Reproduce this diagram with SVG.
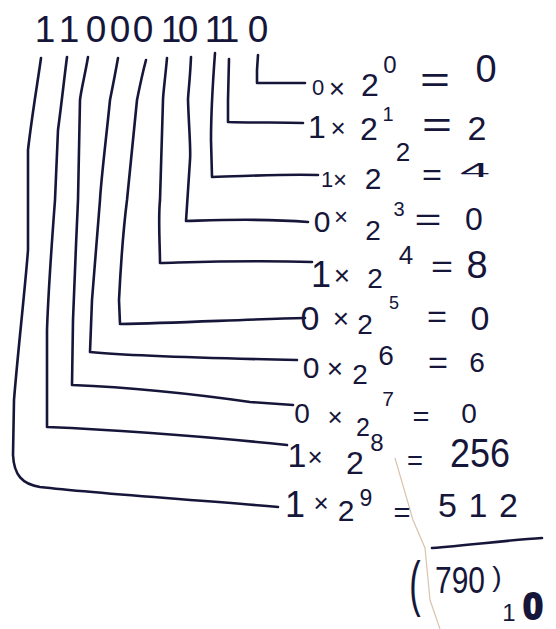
<svg xmlns="http://www.w3.org/2000/svg" width="556" height="629" viewBox="0 0 556 629">
<style>
text{font-family:"Liberation Sans","DejaVu Sans",sans-serif;fill:#16163a;text-anchor:middle}
.ln{fill:none;stroke:#16163a;stroke-width:2.6;stroke-linecap:round;stroke-linejoin:round}
.crease{fill:none;stroke:#c9a98a;stroke-width:1.2;opacity:0.7}
</style>
<rect width="556" height="629" fill="#ffffff"/>
<path class="crease" d="M395,458 L413,520 L425,548 L430,600 L440,629"/>

<g id="binary">
<text font-size="37" x="45 69 96 120 143 171 188 215 229 258" y="42">1100010110</text>
</g>

<g id="connectors">
<path class="ln" d="M41,58 C38,80 32,115 28,150 L28,250 C25,290 18,350 14,400 L13,455 C14,475 22,484 40,487 C100,494 200,500 278,507"/>
<path class="ln" d="M67,57 C64,80 62,100 58,130 L55,200 C52,240 48,300 47,330 L47,427 C120,430 200,436 287,445"/>
<path class="ln" d="M88,57 C85,75 81,90 80,100 L78,200 C76,240 74,300 73,320 L72,385 C120,387 180,392 250,402 L293,405"/>
<path class="ln" d="M118,58 C115,75 112,90 110,100 C106,140 101,180 100,200 L92,300 L90,352 C120,355 200,358 297,360"/>
<path class="ln" d="M146,60 C142,75 139,90 137,100 L127,200 C122,240 120,280 119,300 L120,324 C180,323 250,319 305,318"/>
<path class="ln" d="M167,58 C165,80 163,95 163,100 L160,200 C158,220 160,245 160,263 C200,262 250,260 312,262"/>
<path class="ln" d="M191,57 C190,80 188,95 188,100 C189,130 191,150 190,160 L186,221 C220,220 260,218 308,222"/>
<path class="ln" d="M215,53 C213,80 211,110 211,140 L212,177 C250,176 280,174 318,175"/>
<path class="ln" d="M229,59 L228,100 L228,122 C260,123 280,122 303,123"/>
<path class="ln" d="M258,55 L257,70 L257,83 L305,83"/>
</g>

<g id="term0">
<text font-size="22" x="318" y="95">0</text>
<text font-size="28" x="337" y="98">×</text>
<text font-size="32" x="370" y="96">2</text>
<text font-size="24" x="390" y="73">0</text>
<text font-size="36" x="435" y="92" textLength="30" lengthAdjust="spacingAndGlyphs">=</text>
<text font-size="38" x="486" y="82">0</text>
</g>

<g id="term1">
<text font-size="32" x="317" y="138">1</text>
<text font-size="26" x="338" y="137">×</text>
<text font-size="32" x="369" y="140">2</text>
<text font-size="20" x="388" y="121">1</text>
<text font-size="36" x="437" y="137" textLength="30" lengthAdjust="spacingAndGlyphs">=</text>
<text font-size="34" x="477" y="140">2</text>
</g>

<g id="term2">
<text font-size="22" x="327" y="187">1</text>
<text font-size="24" x="340" y="188">×</text>
<text font-size="30" x="373" y="189">2</text>
<text font-size="26" x="403" y="161">2</text>
<text font-size="30" x="432" y="185" textLength="20" lengthAdjust="spacingAndGlyphs">=</text>
<text font-size="20" x="475" y="177" textLength="30" lengthAdjust="spacingAndGlyphs">4</text>
</g>

<g id="term3">
<text font-size="30" x="322" y="232">0</text>
<text font-size="24" x="341" y="225">×</text>
<text font-size="28" x="373" y="240">2</text>
<text font-size="20" x="399" y="216">3</text>
<text font-size="32" x="428" y="230" textLength="27" lengthAdjust="spacingAndGlyphs">=</text>
<text font-size="32" x="474" y="230">0</text>
</g>

<g id="term4">
<text font-size="36" x="321" y="287">1</text>
<text font-size="28" x="342" y="285">×</text>
<text font-size="28" x="375" y="288">2</text>
<text font-size="26" x="406" y="264">4</text>
<text font-size="32" x="442" y="277" textLength="22" lengthAdjust="spacingAndGlyphs">=</text>
<text font-size="38" x="477" y="278">8</text>
</g>

<g id="term5">
<text font-size="34" x="310" y="330">0</text>
<text font-size="28" x="341" y="328">×</text>
<text font-size="28" x="365" y="334">2</text>
<text font-size="18" x="394" y="309">5</text>
<text font-size="32" x="437" y="327" textLength="20" lengthAdjust="spacingAndGlyphs">=</text>
<text font-size="34" x="480" y="330">0</text>
</g>

<g id="term6">
<text font-size="30" x="311" y="378">0</text>
<text font-size="28" x="335" y="378">×</text>
<text font-size="28" x="360" y="384">2</text>
<text font-size="28" x="386" y="365">6</text>
<text font-size="32" x="438" y="373" textLength="20" lengthAdjust="spacingAndGlyphs">=</text>
<text font-size="28" x="477" y="372">6</text>
</g>

<g id="term7">
<text font-size="28" x="302" y="423">0</text>
<text font-size="26" x="335" y="426">×</text>
<text font-size="25" x="363" y="436">2</text>
<text font-size="21" x="388" y="406">7</text>
<text font-size="28" x="421" y="426" textLength="17" lengthAdjust="spacingAndGlyphs">=</text>
<text font-size="28" x="469" y="423">0</text>
</g>

<g id="term8">
<text font-size="34" x="297" y="467">1</text>
<text font-size="26" x="315" y="466">×</text>
<text font-size="32" x="355" y="474">2</text>
<text font-size="24" x="377" y="451">8</text>
<text font-size="28" x="415" y="470" textLength="16" lengthAdjust="spacingAndGlyphs">=</text>
<text font-size="40" x="480" y="467" textLength="60" lengthAdjust="spacingAndGlyphs">256</text>
</g>

<g id="term9">
<text font-size="36" x="295" y="517">1</text>
<text font-size="26" x="321" y="512">×</text>
<text font-size="30" x="346" y="521">2</text>
<text font-size="23" x="366" y="506">9</text>
<text font-size="28" x="402" y="522" textLength="17" lengthAdjust="spacingAndGlyphs">=</text>
<text font-size="34" x="478" y="517" textLength="80" lengthAdjust="spacing">512</text>
</g>

<g id="result">
<path class="ln" d="M432,548 C470,545 510,540 542,538"/>
<text font-size="62" transform="translate(415,604) scale(0.55,1)" x="0" y="0">(</text>
<text font-size="36" x="460" y="593" textLength="50" lengthAdjust="spacingAndGlyphs">790</text>
<text font-size="28" x="497" y="586">)</text>
<text font-size="24" x="509" y="621">1</text>
<text font-size="36" x="533" y="619" font-weight="bold" stroke="#16163a" stroke-width="2">0</text>
</g>
</svg>
